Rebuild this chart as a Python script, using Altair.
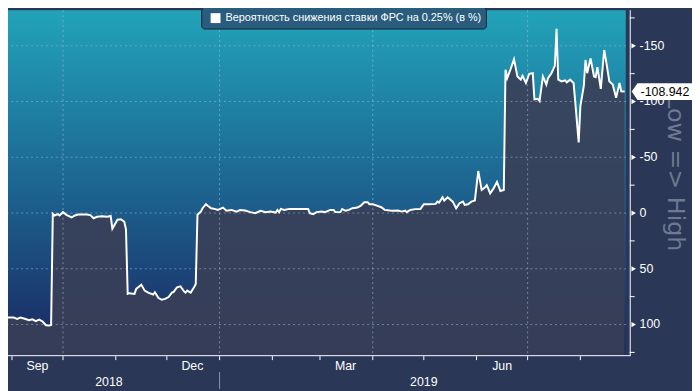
import altair as alt
import pandas as pd

dates = [
    "2018-08-25", "2018-08-27", "2018-08-30", "2018-09-02", "2018-09-04", "2018-09-06",
    "2018-09-09", "2018-09-11", "2018-09-13", "2018-09-15", "2018-09-17", "2018-09-19",
    "2018-09-21", "2018-09-23", "2018-09-24", "2018-09-25", "2018-09-26", "2018-09-28",
    "2018-09-29", "2018-10-01", "2018-10-03", "2018-10-06", "2018-10-08", "2018-10-10",
    "2018-10-15", "2018-10-17", "2018-10-19", "2018-10-21", "2018-10-24", "2018-10-27",
    "2018-10-29", "2018-10-30", "2018-11-02", "2018-11-04", "2018-11-06", "2018-11-07",
    "2018-11-08", "2018-11-09", "2018-11-12", "2018-11-13", "2018-11-16", "2018-11-18",
    "2018-11-20", "2018-11-23", "2018-11-24", "2018-11-26", "2018-11-28", "2018-11-30",
    "2018-12-02", "2018-12-04", "2018-12-05", "2018-12-07", "2018-12-09", "2018-12-11",
    "2018-12-12", "2018-12-13", "2018-12-15", "2018-12-17", "2018-12-18", "2018-12-19",
    "2018-12-21", "2018-12-22", "2018-12-24", "2018-12-25", "2018-12-27", "2018-12-29",
    "2018-12-31", "2019-01-03", "2019-01-05", "2019-01-08", "2019-01-11", "2019-01-13",
    "2019-01-16", "2019-01-19", "2019-01-22", "2019-01-25", "2019-01-28", "2019-01-31",
    "2019-02-03", "2019-02-04", "2019-02-05", "2019-02-06", "2019-02-08", "2019-02-11",
    "2019-02-15", "2019-02-19", "2019-02-22", "2019-02-23", "2019-02-25", "2019-02-27",
    "2019-03-02", "2019-03-04", "2019-03-07", "2019-03-09", "2019-03-10", "2019-03-13",
    "2019-03-14", "2019-03-16", "2019-03-18", "2019-03-20", "2019-03-23", "2019-03-25",
    "2019-03-27", "2019-03-29", "2019-03-30", "2019-04-01", "2019-04-03", "2019-04-06",
    "2019-04-08", "2019-04-11", "2019-04-13", "2019-04-16", "2019-04-18", "2019-04-20",
    "2019-04-21", "2019-04-23", "2019-04-26", "2019-04-29", "2019-05-01", "2019-05-04",
    "2019-05-08", "2019-05-09", "2019-05-10", "2019-05-12", "2019-05-13", "2019-05-15",
    "2019-05-18", "2019-05-20", "2019-05-22", "2019-05-24", "2019-05-25", "2019-05-27",
    "2019-05-29", "2019-05-31", "2019-06-02", "2019-06-04", "2019-06-06", "2019-06-07",
    "2019-06-09", "2019-06-11", "2019-06-13", "2019-06-15", "2019-06-17", "2019-06-18",
    "2019-06-19", "2019-06-21", "2019-06-23", "2019-06-25", "2019-06-27", "2019-06-28",
    "2019-06-30", "2019-07-02", "2019-07-04", "2019-07-05", "2019-07-07", "2019-07-08",
    "2019-07-10", "2019-07-12", "2019-07-13", "2019-07-15", "2019-07-17", "2019-07-18",
    "2019-07-19", "2019-07-21", "2019-07-23", "2019-07-24", "2019-07-26", "2019-07-28",
    "2019-07-29", "2019-07-31", "2019-08-01", "2019-08-03", "2019-08-04", "2019-08-05",
    "2019-08-07", "2019-08-09", "2019-08-10", "2019-08-11", "2019-08-13", "2019-08-15",
    "2019-08-16", "2019-08-18", "2019-08-20", "2019-08-22", "2019-08-24", "2019-08-25",
    "2019-08-27",
]
values = [
    93.8, 92.9, 93.8, 93.8, 94.9, 93.8,
    95.1, 96.2, 95.3, 96.9, 95.6, 97.3,
    100.6, 100.9, 100.4, 0.7, 2.2, 1.0,
    2.2, -0.8, 1.6, 4.0, 2.2, 1.3,
    1.3, 1.9, 4.7, 3.4, 2.9, 3.4,
    2.7, 14.0, 6.0, 5.6, 7.8, 14.9,
    72.5, 71.9, 72.5, 68.1, 64.3, 69.6,
    71.4, 73.1, 71.0, 76.1, 77.8, 77.0,
    75.4, 71.4, 70.7, 66.6, 65.7, 70.1,
    71.4, 69.6, 71.4, 66.6, 63.7, 1.6,
    -1.3, -4.3, -7.9, -6.6, -4.3, -3.7,
    -2.8, -4.9, -2.0, -2.8, -1.3, -2.8,
    -2.2, -0.8, 0.1, -2.0, -0.8, -1.3,
    -0.4, -2.8, -0.8, -3.7, -2.8, -3.7,
    -3.7, -3.7, -3.7, 0.1, 1.0, -0.8,
    -1.3, -0.8, -2.8, -2.8, -0.8, -0.8,
    -3.5, -2.0, -2.8, -4.3, -4.9, -6.6,
    -9.7, -9.7, -7.9, -7.9, -6.8, -5.2,
    -2.8, -2.2, -2.0, -2.2, -1.3, -2.2,
    -0.8, -2.8, -3.5, -3.5, -7.9, -7.9,
    -8.2, -10.2, -9.3, -14.1, -11.1, -14.1,
    -10.2, -4.3, -8.8, -10.2, -7.3, -7.9,
    -10.2, -11.3, -37.7, -20.6, -23.0, -25.0,
    -17.6, -22.1, -27.9, -19.7, -20.6, -128.5,
    -121.0, -129.0, -137.9, -122.5, -119.6, -123.1,
    -116.6, -124.9, -125.4, -101.9, -102.4, -100.4,
    -122.5, -115.2, -121.0, -125.4, -132.0, -165.3,
    -119.6, -118.1, -119.0, -117.2, -119.6, -116.6,
    -99.5, -63.4, -95.9, -113.7, -137.3, -125.4,
    -138.7, -122.5, -121.9, -130.8, -111.3, -146.2,
    -137.3, -118.1, -115.2, -103.3, -116.6, -109.2,
    -108.942,
]
last_value = -108.942
last_label = "-108.942"

major_ticks = [-150, -100, -50, 0, 50, 100]
major_labels = ["-150", "-100", "-50", "0", "50", "100"]
minor_ticks = [-175, -125, -75, -25, 25, 75, 125]
grid_span = ["2018-08-20", "2019-08-28"]
grid_dates = ["2018-10-01", "2019-01-01", "2019-04-01", "2019-07-01"]
month_starts = ["2018-09-01", "2018-10-01", "2018-11-01", "2018-12-01",
                "2019-01-01", "2019-02-01", "2019-03-01", "2019-04-01",
                "2019-05-01", "2019-06-01", "2019-07-01", "2019-08-01"]
month_label_dates = ["2018-09-16", "2018-12-16", "2019-03-16", "2019-06-16"]
month_labels = ["Sep", "Dec", "Mar", "Jun"]
year_label_dates = ["2018-10-28", "2019-05-01"]
year_labels = ["2018", "2019"]
year_break = ["2019-01-01"]
legend_text = "Вероятность снижения ставки ФРС на 0.25% (в %)"
axis_title = "Low => High"

W, H = 629, 349
FONT = "Liberation Sans"
Y_BOTTOM = 127.5

xscale = alt.Scale(
    domain=[alt.DateTime(year=2018, month=8, date=29, hours=16, utc=True),
            alt.DateTime(year=2019, month=8, date=30, utc=True)],
    nice=False,
)
yscale = alt.Scale(domain=[-181.9, Y_BOTTOM], reverse=True, nice=False, zero=False)

df = pd.DataFrame({"date": dates, "value": values})
base = alt.Chart(df)

gradient = alt.LinearGradient(
    gradient="linear",
    stops=[alt.GradientStop(color="#22a3ba", offset=0),
           alt.GradientStop(color="#1d6692", offset=0.5),
           alt.GradientStop(color="#1a2660", offset=1)],
    x1=0, x2=0, y1=0, y2=1,
)
one = alt.Data(values=[{"k": 1}])

bg = alt.Chart(one).mark_rect(fill=gradient).encode(
    x=alt.value(0), x2=alt.value(W - 4), y=alt.value(0), y2=alt.value(H))

area = base.mark_area(fill="#3a3f56", opacity=0.9, clip=True).encode(
    x=alt.X("date:T", scale=xscale, axis=None),
    y=alt.Y("value:Q", scale=yscale, axis=None, stack=None),
    y2=alt.datum(Y_BOTTOM),
)

# horizontal grid: one dashed two-point line per major tick level
hgrid_df = pd.DataFrame(
    [{"gd": d, "gv": v} for v in major_ticks for d in grid_span]
)
hgrid = alt.Chart(hgrid_df).mark_line(
    color="#8fb3cf", opacity=0.6, strokeDash=[2, 3], strokeWidth=1, clip=True).encode(
    x=alt.X("gd:T", scale=xscale, axis=None),
    y=alt.Y("gv:Q", scale=yscale, axis=None),
    detail="gv:N",
)
vgrid = alt.Chart(pd.DataFrame({"d": grid_dates})).mark_rule(
    color="#a6c8e2", opacity=0.55, strokeDash=[2, 3], strokeWidth=1).encode(
    x=alt.X("d:T", scale=xscale, axis=None), y=alt.value(0), y2=alt.value(H))

line = base.mark_line(color="white", strokeWidth=2, clip=True).encode(
    x=alt.X("date:T", scale=xscale, axis=None),
    y=alt.Y("value:Q", scale=yscale, axis=None),
)

# axis lines
y_domain = alt.Chart(one).mark_rule(color="white", strokeWidth=1).encode(
    x=alt.value(W + 0.5), y=alt.value(0), y2=alt.value(H + 0.5))
x_domain = alt.Chart(one).mark_rule(color="white", strokeWidth=1).encode(
    x=alt.value(0), x2=alt.value(W + 1), y=alt.value(H + 0.5))
x_ticks = alt.Chart(pd.DataFrame({"d": month_starts})).mark_rule(color="white").encode(
    x=alt.X("d:T", scale=xscale, axis=None), y=alt.value(H + 1), y2=alt.value(H + 5))

tri = alt.Chart(pd.DataFrame({"v": major_ticks})).mark_point(
    shape="triangle-right", filled=True, color="white", size=28, opacity=1).encode(
    y=alt.Y("v:Q", scale=yscale, axis=None), x=alt.value(W + 4))
minor = alt.Chart(pd.DataFrame({"v": minor_ticks})).mark_rule(color="white").encode(
    y=alt.Y("v:Q", scale=yscale, axis=None), x=alt.value(W), x2=alt.value(W + 5))
ylabels = alt.Chart(pd.DataFrame({"v": major_ticks, "t": major_labels})).mark_text(
    color="white", font=FONT, fontSize=12.5, align="left", baseline="middle").encode(
    y=alt.Y("v:Q", scale=yscale, axis=None), x=alt.value(W + 10), text="t:N")
ytitle = alt.Chart(pd.DataFrame({"t": [axis_title]})).mark_text(
    color="#6e7a91", font="DejaVu Sans", fontSize=24, angle=90,
    align="center", baseline="middle").encode(
    x=alt.value(675), y=alt.value(165), text="t:N")

months = alt.Chart(pd.DataFrame({"d": month_label_dates, "t": month_labels})).mark_text(
    color="white", font=FONT, fontSize=12.5, baseline="middle", align="center").encode(
    x=alt.X("d:T", scale=xscale, axis=None), y=alt.value(H + 11), text="t:N")
years = alt.Chart(pd.DataFrame({"d": year_label_dates, "t": year_labels})).mark_text(
    color="white", font=FONT, fontSize=12.5, baseline="middle", align="center").encode(
    x=alt.X("d:T", scale=xscale, axis=None), y=alt.value(H + 27), text="t:N")
ysep = alt.Chart(pd.DataFrame({"d": year_break})).mark_rule(color="#8d95a8").encode(
    x=alt.X("d:T", scale=xscale, axis=None), y=alt.value(H + 17), y2=alt.value(H + 34))

leg_box = alt.Chart(one).mark_rect(
    fill="#2a5d7d", stroke="#15222f", strokeWidth=1, cornerRadius=3).encode(
    x=alt.value(196), x2=alt.value(484), y=alt.value(-3), y2=alt.value(19))
leg_sq = alt.Chart(one).mark_rect(fill="white").encode(
    x=alt.value(205), x2=alt.value(215), y=alt.value(3), y2=alt.value(13))
leg_txt = alt.Chart(pd.DataFrame({"t": [legend_text]})).mark_text(
    color="white", font=FONT, fontSize=11, align="left", baseline="middle").encode(
    x=alt.value(220), y=alt.value(8), text="t:N")

last_df = pd.DataFrame({"v": [last_value], "t": [last_label]})
val_box = alt.Chart(last_df).mark_point(
    shape="M -1 0 L -0.81 -0.274 L 1 -0.274 L 1 0.274 L -0.81 0.274 Z",
    filled=True, fill="white", opacity=1, size=3844, strokeWidth=0).encode(
    y=alt.Y("v:Q", scale=yscale, axis=None), x=alt.value(662))
val_txt = alt.Chart(last_df).mark_text(
    color="black", font=FONT, fontSize=12.5, align="left", baseline="middle").encode(
    y=alt.Y("v:Q", scale=yscale, axis=None), x=alt.value(640), text="t:N")

chart = alt.layer(
    bg, area, hgrid, vgrid, line, y_domain, x_domain, x_ticks, tri, minor, ylabels,
    ytitle, months, years, ysep, leg_box, leg_sq, leg_txt, val_box, val_txt,
).properties(
    width=W, height=H,
    autosize=alt.AutoSizeParams(type="none"),
    padding={"left": 0, "top": 0, "right": 63, "bottom": 34},
    background="#2a3756",
).configure_view(stroke=None)

chart.save("out.html", embed_options={"renderer": "svg", "actions": False})
